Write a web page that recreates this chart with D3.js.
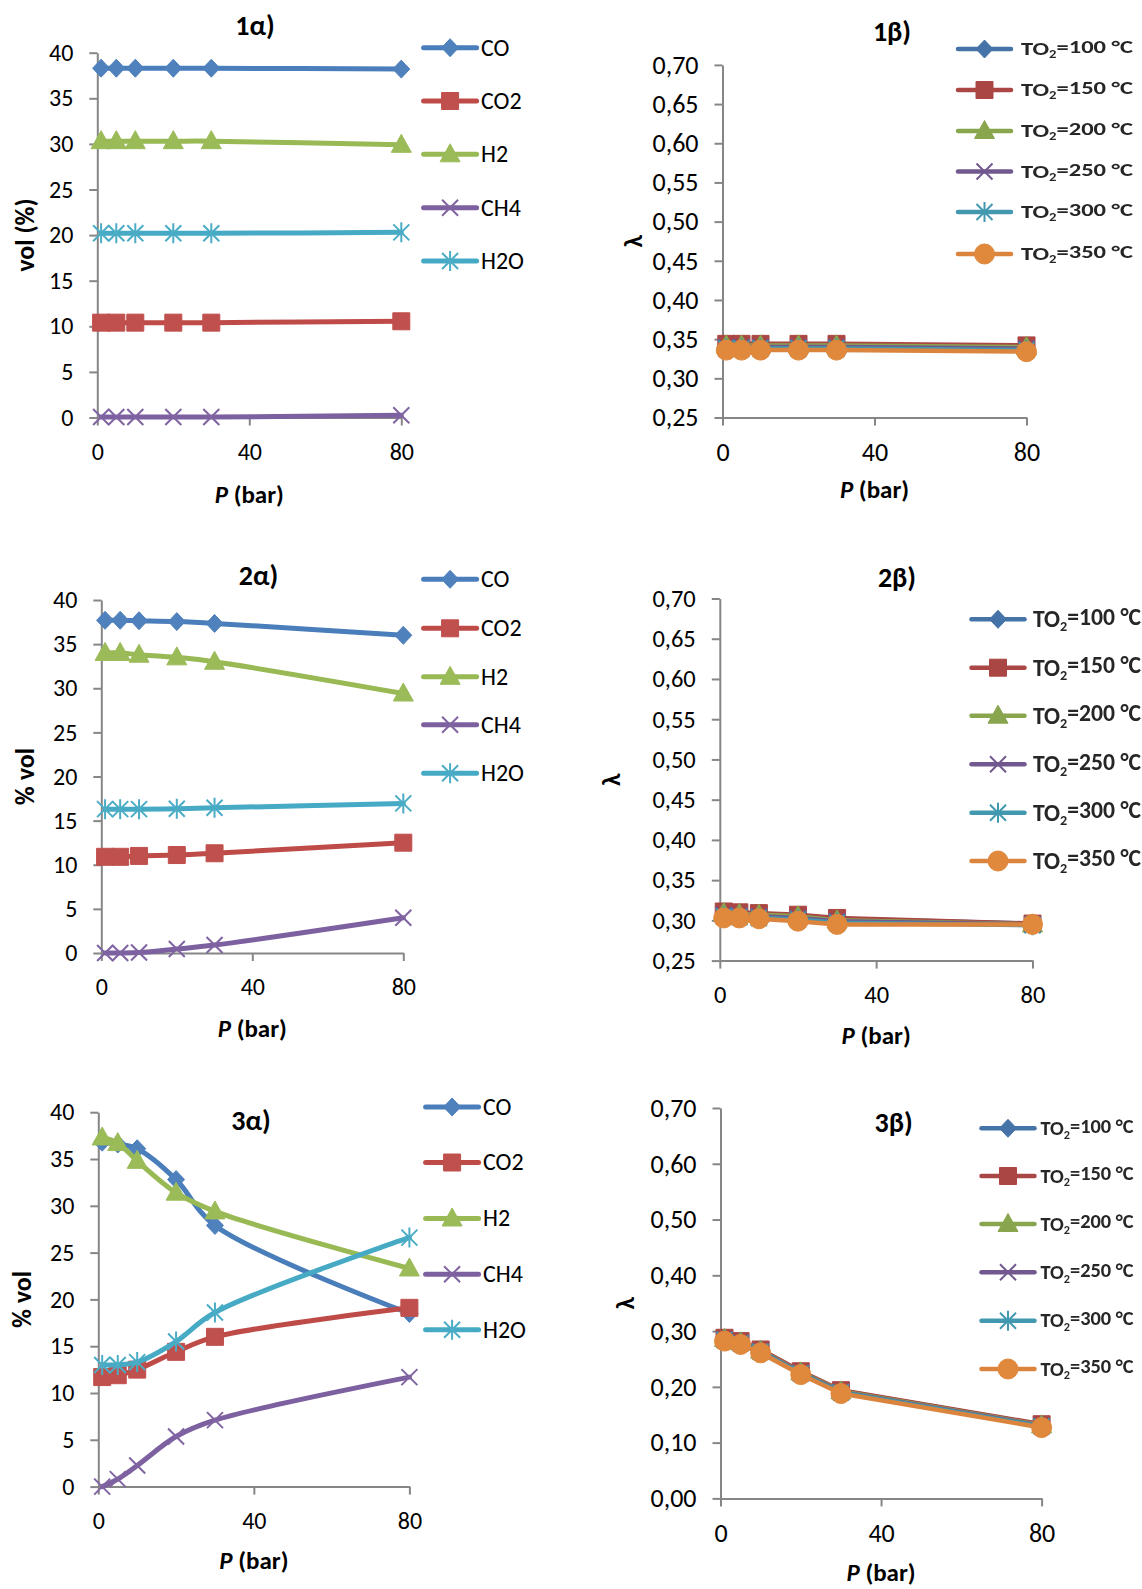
<!DOCTYPE html>
<html>
<head>
<meta charset="utf-8">
<script src="https://cdn.jsdelivr.net/npm/d3@7"></script>
<style>
  body { margin: 0; background: #fff; }
  svg { display: block; }
  text { font-family: Carlito, Lato, "Open Sans", sans-serif; }
</style>
</head>
<body>
<svg id="chart" width="1142" height="1589"></svg>
<script>
// ---- data -------------------------------------------------------------
const pressure = [1, 5, 10, 20, 30, 80];              // P (bar)
const species = ["CO", "CO2", "H2", "CH4", "H2O"];
const oxidantTemps = [100, 150, 200, 250, 300, 350];  // TO2 (°C)
const pressureTicks = [0, 40, 80];
const volTicks = [0, 5, 10, 15, 20, 25, 30, 35, 40];
const lambdaTicksFine = [0.25, 0.30, 0.35, 0.40, 0.45, 0.50, 0.55, 0.60, 0.65, 0.70];
const lambdaTicksCoarse = [0.00, 0.10, 0.20, 0.30, 0.40, 0.50, 0.60, 0.70];

// product gas composition (% vol), one row per species
const vol1 = [
  [38.3, 38.3, 38.3, 38.3, 38.3, 38.2],
  [10.4, 10.4, 10.4, 10.4, 10.4, 10.55],
  [30.3, 30.3, 30.3, 30.3, 30.3, 29.9],
  [0.05, 0.05, 0.05, 0.05, 0.05, 0.25],
  [20.2, 20.2, 20.2, 20.2, 20.2, 20.3]
];
const vol2 = [
  [37.7, 37.7, 37.65, 37.55, 37.35, 36.0],
  [10.9, 10.9, 11.0, 11.1, 11.3, 12.5],
  [34.0, 34.0, 33.8, 33.5, 33.0, 29.4],
  [0.0, 0.0, 0.05, 0.45, 0.9, 4.0],
  [16.3, 16.3, 16.3, 16.35, 16.45, 16.95]
];
const vol3 = [
  [36.8, 36.6, 36.1, 32.8, 27.9, 18.5],
  [11.7, 11.9, 12.5, 14.4, 16.0, 19.1],
  [37.3, 36.7, 34.8, 31.4, 29.4, 23.3],
  [0.0, 0.8, 2.25, 5.35, 7.1, 11.7],
  [13.0, 13.0, 13.3, 15.5, 18.6, 26.6]
];

// lambda, one row per oxidant temperature
const lambda1 = [
  [0.343, 0.343, 0.343, 0.343, 0.343, 0.341],
  [0.344, 0.344, 0.344, 0.344, 0.344, 0.342],
  [0.342, 0.342, 0.342, 0.342, 0.342, 0.340],
  [0.340, 0.340, 0.340, 0.340, 0.340, 0.338],
  [0.338, 0.338, 0.338, 0.338, 0.338, 0.336],
  [0.336, 0.336, 0.336, 0.336, 0.336, 0.334]
];
const lambda2 = [
  [0.310, 0.309, 0.308, 0.306, 0.302, 0.296],
  [0.311, 0.310, 0.309, 0.307, 0.303, 0.296],
  [0.309, 0.308, 0.307, 0.305, 0.300, 0.295],
  [0.307, 0.306, 0.305, 0.303, 0.299, 0.295],
  [0.305, 0.304, 0.303, 0.301, 0.297, 0.294],
  [0.303, 0.303, 0.302, 0.299, 0.295, 0.295]
];
const lambda3 = [
  [0.287, 0.281, 0.266, 0.227, 0.193, 0.132],
  [0.288, 0.282, 0.267, 0.228, 0.194, 0.133],
  [0.286, 0.280, 0.265, 0.226, 0.192, 0.131],
  [0.285, 0.279, 0.264, 0.225, 0.191, 0.130],
  [0.284, 0.278, 0.263, 0.224, 0.190, 0.129],
  [0.282, 0.276, 0.261, 0.222, 0.188, 0.127]
];

// ---- styles -----------------------------------------------------------
const gasStyle = {
  line:  ["#4A7EBB", "#BE4B48", "#98B954", "#7D60A0", "#46AAC5"],
  fill:  ["#4F81BD", "#C0504D", "#9BBB59", "#8064A2", "#4BACC6"],
  shape: ["diamond", "square", "triangle", "cross", "star"]
};
const tempStyle = {
  line:  ["#4572A7", "#AA4643", "#89A54E", "#71588F", "#4198AF", "#DB843D"],
  fill:  ["#4572A7", "#AA4643", "#89A54E", "#71588F", "#4198AF", "#E0883C"],
  shape: ["diamond", "square", "triangle", "cross", "star", "circle"]
};

const shapePath = {
  diamond:  "M0,-9L8.5,0L0,9L-8.5,0Z",
  square:   "M-8.5,-8.5H8.5V8.5H-8.5Z",
  triangle: "M0,-10.5L10,7.5L-10,7.5Z",
  cross:    "M-8,-8L8,8M8,-8L-8,8",
  star:     "M-8,-8L8,8M8,-8L-8,8M0,-10V10",
  circle:   "M10,0A10,10,0,1,1,-10,0A10,10,0,1,1,10,0Z"
};

const commaLocale = d3.formatLocale({ decimal: ",", thousands: ".", grouping: [3], currency: ["", ""] });
const fmtLambda = commaLocale.format(".2f");
const fmtInt = d3.format("d");

const svg = d3.select("#chart");
const defs = svg.append("defs");
defs.append("filter").attr("id", "soft")
  .append("feGaussianBlur").attr("stdDeviation", 0.45);

function addMarker(g, shape, fill, cx, cy) {
  const open = shape === "cross" || shape === "star";
  g.append("path")
    .attr("d", shapePath[shape])
    .attr("transform", `translate(${cx},${cy})`)
    .attr("fill", open ? "none" : fill)
    .attr("stroke", fill)
    .attr("stroke-width", open ? 2 : 1)
    .attr("stroke-linejoin", "round");
}

function drawPanel(p) {
  const g = svg.append("g");
  const x = d3.scaleLinear().domain([0, 80]).range([p.left, p.right]);
  const y = d3.scaleLinear().domain(p.yDomain).range([p.bottom, p.top]);

  // axes
  const yAxis = d3.axisLeft(y).tickValues(p.yTicks).tickFormat(p.fmt)
    .tickSize(8).tickSizeOuter(0).tickPadding(16);
  const xAxis = d3.axisBottom(x).tickValues(pressureTicks).tickFormat(fmtInt)
    .tickSize(8).tickSizeOuter(0).tickPadding(17);

  const ya = g.append("g").attr("transform", `translate(${p.left},0)`).call(yAxis);
  const xa = g.append("g").attr("transform", `translate(0,${p.bottom})`).call(xAxis);
  [ya, xa].forEach(a => {
    a.select(".domain").attr("stroke", "#868686").attr("stroke-width", 2);
    a.selectAll(".tick line").attr("stroke", "#868686").attr("stroke-width", 2);
    a.selectAll(".tick text").attr("fill", "#000")
      .style("font-size", p.tickFont + "px")
      .style("font-family", "Carlito, Lato, 'Open Sans', sans-serif");
  });

  // series
  const line = d3.line()
    .x((d, i) => x(pressure[i]))
    .y(d => y(d))
    .curve(p.curve);

  p.data.forEach((row, k) => {
    const sg = g.append("g");
    sg.append("path")
      .attr("d", line(row))
      .attr("fill", "none")
      .attr("stroke", p.style.line[k])
      .attr("stroke-width", p.lineWidth)
      .attr("stroke-linejoin", "round")
      .attr("stroke-linecap", "round");
    row.forEach((v, i) => addMarker(sg, p.style.shape[k], p.style.fill[k], x(pressure[i]), y(v)));
  });

  // title
  g.append("text")
    .attr("x", p.titleX).attr("y", p.titleY).attr("dy", "0.35em")
    .attr("text-anchor", "middle")
    .style("font-size", "28px").style("font-weight", "bold")
    .text(p.title);

  // x title
  const xt = g.append("text")
    .attr("x", (p.left + p.right) / 2).attr("y", p.xTitleY).attr("dy", "0.35em")
    .attr("text-anchor", "middle")
    .style("font-size", "25px").style("font-weight", "bold");
  xt.append("tspan").style("font-style", "italic").text("P");
  xt.append("tspan").text(" (bar)");

  // y title
  g.append("text")
    .attr("transform", `translate(${p.yTitleX},${(p.top + p.bottom) / 2}) rotate(-90)`)
    .attr("dy", "0.35em")
    .attr("text-anchor", "middle")
    .style("font-size", "26px").style("font-weight", "bold")
    .text(p.yTitle);

  // legend
  p.legendRows.forEach((ry, k) => {
    const lg = g.append("g");
    lg.append("line")
      .attr("x1", p.legendX).attr("x2", p.legendX + 53)
      .attr("y1", ry).attr("y2", ry)
      .attr("stroke", p.style.line[k]).attr("stroke-width", p.lineWidth)
      .attr("stroke-linecap", "round");
    addMarker(lg, p.style.shape[k], p.style.fill[k], p.legendX + 26.5, ry);
    p.legendText(lg, k, p.legendTextX, ry);
  });
}

function gasLabel(g, k, tx, ty) {
  g.append("text")
    .attr("x", tx).attr("y", ty).attr("dy", "0.33em")
    .style("font-size", "24px").attr("fill", "#000")
    .text(species[k]);
}

function tempLabel(size, width) {
  return function (g, k, tx, ty) {
    const t = g.append("text")
      .attr("x", tx).attr("y", ty).attr("dy", "0.33em")
      .attr("textLength", width).attr("lengthAdjust", "spacingAndGlyphs")
      .attr("fill", "#262626").attr("filter", "url(#soft)")
      .style("font-size", size + "px").style("font-weight", 600);
    t.append("tspan").text("TO");
    t.append("tspan").attr("dy", "0.28em").style("font-size", (size * 0.6) + "px").text("2");
    t.append("tspan").attr("dy", "-0.28em").text("=" + oxidantTemps[k] + " ");
    t.append("tspan").text("°C");
  };
}

const smooth = d3.curveCatmullRom.alpha(0.5);

// ---- panels -----------------------------------------------------------
drawPanel({
  data: vol1, style: gasStyle, curve: smooth, lineWidth: 5,
  left: 97.3, right: 401.3, top: 52.7, bottom: 417.5,
  yDomain: [0, 40], yTicks: volTicks, fmt: fmtInt, tickFont: 24,
  title: "1α)", titleX: 255, titleY: 25,
  xTitleY: 494, yTitle: "vol (%)", yTitleX: 25,
  legendX: 423.6, legendTextX: 481, legendRows: [47.7, 101, 154.3, 207.7, 261],
  legendText: gasLabel
});

drawPanel({
  data: lambda1, style: tempStyle, curve: d3.curveLinear, lineWidth: 4.5,
  left: 722.5, right: 1026.5, top: 64.9, bottom: 417.5,
  yDomain: [0.25, 0.70], yTicks: lambdaTicksFine, fmt: fmtLambda, tickFont: 26,
  title: "1β)", titleX: 892, titleY: 31,
  xTitleY: 489, yTitle: "λ", yTitleX: 633,
  legendX: 958, legendTextX: 1021, legendRows: [49, 90, 131, 171.5, 212, 254],
  legendText: tempLabel(19, 112)
});

drawPanel({
  data: vol2, style: gasStyle, curve: smooth, lineWidth: 5,
  left: 101.3, right: 403.3, top: 600, bottom: 953,
  yDomain: [0, 40], yTicks: volTicks, fmt: fmtInt, tickFont: 24,
  title: "2α)", titleX: 258.5, titleY: 575,
  xTitleY: 1028.5, yTitle: "% vol", yTitleX: 25.3,
  legendX: 423.6, legendTextX: 481, legendRows: [579.3, 628.3, 676.8, 724.8, 773.3],
  legendText: gasLabel
});

drawPanel({
  data: lambda2, style: tempStyle, curve: d3.curveLinear, lineWidth: 4.5,
  left: 719.8, right: 1032.5, top: 598.5, bottom: 960.6,
  yDomain: [0.25, 0.70], yTicks: lambdaTicksFine, fmt: fmtLambda, tickFont: 24.5,
  title: "2β)", titleX: 897, titleY: 577,
  xTitleY: 1035.6, yTitle: "λ", yTitleX: 611,
  legendX: 971.5, legendTextX: 1033, legendRows: [619.3, 667.7, 715.7, 764.3, 812.7, 861],
  legendText: tempLabel(24, 108)
});

drawPanel({
  data: vol3, style: gasStyle, curve: smooth, lineWidth: 5,
  left: 98.3, right: 409.4, top: 1112.2, bottom: 1486.6,
  yDomain: [0, 40], yTicks: volTicks, fmt: fmtInt, tickFont: 24,
  title: "3α)", titleX: 251, titleY: 1120,
  xTitleY: 1560.5, yTitle: "% vol", yTitleX: 22.3,
  legendX: 425.6, legendTextX: 483, legendRows: [1107, 1162.5, 1218.5, 1274.2, 1329.8],
  legendText: gasLabel
});

drawPanel({
  data: lambda3, style: tempStyle, curve: d3.curveLinear, lineWidth: 4.5,
  left: 720.5, right: 1041.6, top: 1108, bottom: 1498.4,
  yDomain: [0, 0.70], yTicks: lambdaTicksCoarse, fmt: fmtLambda, tickFont: 26,
  title: "3β)", titleX: 893.7, titleY: 1121.7,
  xTitleY: 1572.6, yTitle: "λ", yTitleX: 625,
  legendX: 981.5, legendTextX: 1040.5, legendRows: [1128.3, 1176, 1224, 1272.3, 1320.7, 1369],
  legendText: tempLabel(20.5, 93)
});
</script>
</body>
</html>
